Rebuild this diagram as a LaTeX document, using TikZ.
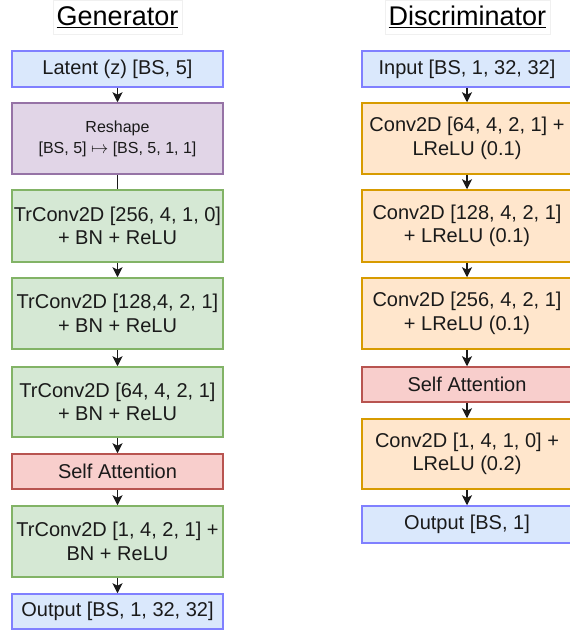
\documentclass[tikz,border=0pt]{standalone}
\usepackage{fontspec}
\setmainfont{Liberation Sans}
\usetikzlibrary{arrows.meta}
\definecolor{txt}{HTML}{1A1A1A}
\definecolor{bfill}{HTML}{DAE8FC}\definecolor{bdraw}{HTML}{8080FF}
\definecolor{pfill}{HTML}{E1D5E7}\definecolor{pdraw}{HTML}{9673A6}
\definecolor{gfill}{HTML}{D5E8D4}\definecolor{gdraw}{HTML}{82B366}
\definecolor{rfill}{HTML}{F8CECC}\definecolor{rdraw}{HTML}{B85450}
\definecolor{ofill}{HTML}{FFE6CC}\definecolor{odraw}{HTML}{D79B00}
\tikzset{
  blk/.style={draw, line width=1.5pt, minimum width=210pt, align=center, inner sep=0pt,
    text=txt, font=\fontsize{20}{23.5}\selectfont},
  bluebox/.style={blk, fill=bfill, draw=bdraw},
  purplebox/.style={blk, fill=pfill, draw=pdraw},
  greenbox/.style={blk, fill=gfill, draw=gdraw},
  redbox/.style={blk, fill=rfill, draw=rdraw},
  orangebox/.style={blk, fill=ofill, draw=odraw},
  titlebox/.style={draw=gray!12, line width=0.6pt, inner sep=0pt, text=black,
    font=\fontsize{27}{30}\selectfont, minimum height=34pt},
  flow/.style={draw=txt, line width=1.4pt, -{Stealth[length=10pt,width=10pt,inset=2.5pt]}},
  plainflow/.style={draw=txt, line width=1.4pt}
}
\begin{document}
\begin{tikzpicture}[x=1pt,y=-1pt]
\useasboundingbox (0,0) rectangle (570,630);
\clip (0,0) rectangle (570,630);
% titles
\node[titlebox, minimum width=129pt] (gtitle) at (117.5,17) {\underline{Generator}};
\node[titlebox, minimum width=165pt] (dtitle) at (467.5,17) {\underline{Discriminator}};
% generator
\node[bluebox, minimum width=211pt, minimum height=36pt] (lat) at (117.5,69) {Latent (z) [BS, 5]};
\node[purplebox, minimum width=211pt, minimum height=71pt, font=\fontsize{16}{21}\selectfont] (resh) at (117.5,138.5) {Reshape\\{}[BS, 5] $\mapsto$ [BS, 5, 1, 1]};
\node[greenbox, minimum width=211pt, minimum height=72pt] (tr1) at (117.5,226) {TrConv2D [256, 4, 1, 0]\\+ BN + ReLU};
\node[greenbox, minimum width=211pt, minimum height=71pt] (tr2) at (117.5,313.5) {TrConv2D [128,4, 2, 1]\\+ BN + ReLU};
\node[greenbox, minimum width=211pt, minimum height=70pt] (tr3) at (117.5,402) {TrConv2D [64, 4, 2, 1]\\+ BN + ReLU};
\node[redbox, minimum width=211pt, minimum height=35pt] (sa) at (117.5,471.5) {Self Attention};
\node[greenbox, minimum width=211pt, minimum height=71pt] (tr4) at (117.5,541.5) {TrConv2D [1, 4, 2, 1] +\\BN + ReLU};
\node[bluebox, minimum width=211pt, minimum height=35pt] (gout) at (117.5,611.5) {Output [BS, 1, 32, 32]};
\draw[flow] (lat) -- (resh);
\draw[plainflow] (resh) -- (tr1);
\draw[flow] (tr1) -- (tr2);
\draw[flow] (tr2) -- (tr3);
\draw[flow] (tr3) -- (sa);
\draw[flow] (sa) -- (tr4);
\draw[flow] (tr4) -- (gout);
% discriminator
\node[bluebox, minimum height=36pt] (inp) at (467,69) {Input [BS, 1, 32, 32]};
\node[orangebox, minimum height=71pt] (c1) at (467,138.5) {Conv2D [64, 4, 2, 1] +\\LReLU (0.1)};
\node[orangebox, minimum height=72pt] (c2) at (467,226) {Conv2D [128, 4, 2, 1]\\+ LReLU (0.1)};
\node[orangebox, minimum height=71pt] (c3) at (467,313.5) {Conv2D [256, 4, 2, 1]\\+ LReLU (0.1)};
\node[redbox, minimum height=35pt] (sa2) at (467,384.5) {Self Attention};
\node[orangebox, minimum height=70pt] (c4) at (467,454) {Conv2D [1, 4, 1, 0] +\\LReLU (0.2)};
\node[bluebox, minimum height=37pt] (dout) at (467,524.5) {Output [BS, 1]};
\draw[flow] (inp) -- (c1);
\draw[flow] (c1) -- (c2);
\draw[flow] (c2) -- (c3);
\draw[flow] (c3) -- (sa2);
\draw[flow] (sa2) -- (c4);
\draw[flow] (c4) -- (dout);
\end{tikzpicture}
\end{document}
